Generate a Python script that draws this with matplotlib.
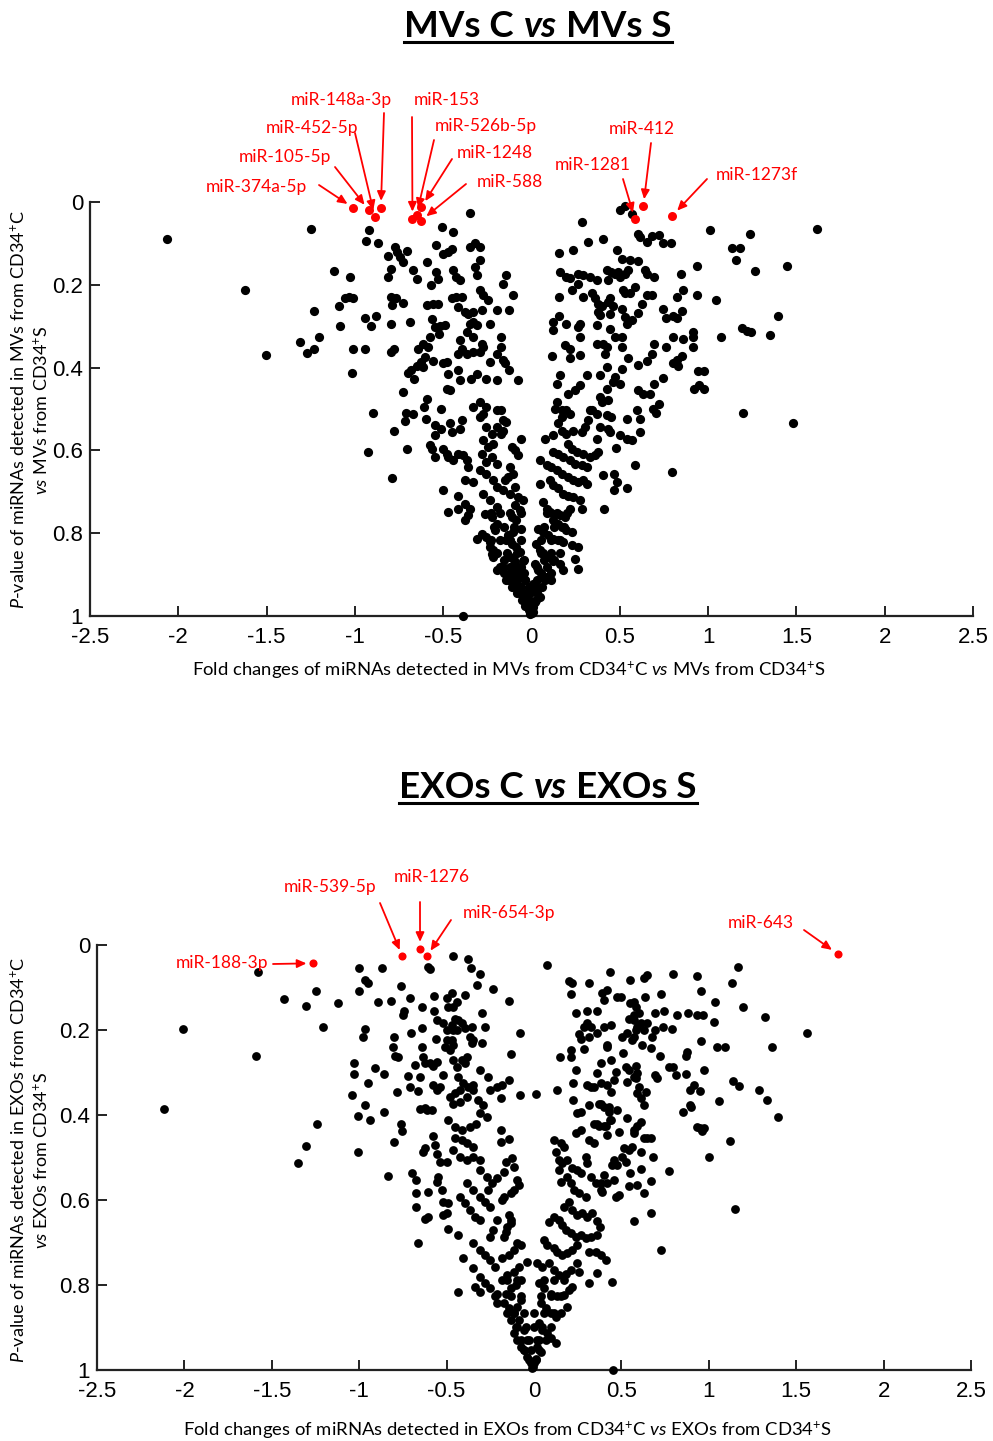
import numpy as np
import matplotlib
matplotlib.use("Agg")
import matplotlib.pyplot as plt
from matplotlib.lines import Line2D

plt.rcParams["mathtext.fontset"] = "custom"
plt.rcParams["mathtext.rm"] = "Lato"
plt.rcParams["mathtext.it"] = "Lato:italic"
plt.rcParams["mathtext.bf"] = "Lato:bold"

W, H = 993, 1441

# ---------------- MVs C vs MVs S : (fold change, P-value) ----------------
mv_outer_left = [
    (-2.062, 0.089), (-1.623, 0.213), (-1.506, 0.370), (-1.249, 0.065), (-1.121, 0.166),
    (-1.311, 0.338), (-1.230, 0.264), (-1.202, 0.326), (-1.274, 0.365), (-1.230, 0.354),
    (-1.092, 0.252), (-1.083, 0.300), (-1.057, 0.231), (-1.034, 0.229), (-1.008, 0.233),
    (-1.028, 0.182), (-1.019, 0.412), (-1.008, 0.354), (-0.945, 0.280), (-0.945, 0.354),
    (-0.909, 0.300), (-0.879, 0.275), (-0.898, 0.510), (-0.926, 0.604), (-0.919, 0.068),
    (-0.936, 0.093), (-0.872, 0.100), (-0.789, 0.666), (-0.781, 0.553), (-0.798, 0.295),
    (-0.798, 0.362), (-0.781, 0.354), (-0.794, 0.229), (-0.770, 0.233), (-0.791, 0.249),
    (-0.815, 0.181), (-0.798, 0.163), (-0.811, 0.131), (-0.774, 0.109), (-0.762, 0.121),
    (-0.745, 0.133), (-0.706, 0.119), (-0.725, 0.144), (-0.670, 0.165), (-0.651, 0.186),
    (-0.725, 0.244), (-0.689, 0.291), (-0.700, 0.412), (-0.681, 0.407), (-0.664, 0.428),
    (-0.725, 0.459), (-0.709, 0.509), (-0.670, 0.513), (-0.715, 0.529), (-0.706, 0.596),
    (-0.651, 0.395), (-0.613, 0.399), (-0.628, 0.386), (-0.642, 0.354), (-0.613, 0.342),
    (-0.585, 0.350), (-0.604, 0.374), (-0.557, 0.383), (-0.589, 0.144), (-0.542, 0.103),
    (-0.504, 0.061), (-0.443, 0.073), (-0.500, 0.125), (-0.472, 0.121), (-0.453, 0.113),
    (-0.538, 0.169), (-0.528, 0.185), (-0.570, 0.201), (-0.589, 0.248), (-0.557, 0.246),
    (-0.532, 0.246), (-0.562, 0.282), (-0.545, 0.301), (-0.519, 0.299), (-0.491, 0.297),
    (-0.523, 0.320), (-0.575, 0.326), (-0.481, 0.386), (-0.500, 0.388), (-0.475, 0.415),
    (-0.415, 0.407), (-0.406, 0.431), (-0.481, 0.451), (-0.462, 0.455), (-0.589, 0.475),
    (-0.608, 0.494), (-0.513, 0.499), (-0.596, 0.523), (-0.545, 0.539), (-0.513, 0.548),
    (-0.462, 0.535), (-0.453, 0.556), (-0.396, 0.527), (-0.406, 0.548), (-0.545, 0.564),
    (-0.575, 0.588), (-0.566, 0.596), (-0.547, 0.616), (-0.500, 0.596), (-0.481, 0.608),
    (-0.472, 0.616), (-0.443, 0.624), (-0.415, 0.608), (-0.387, 0.612), (-0.368, 0.624),
    (-0.358, 0.640), (-0.377, 0.672), (-0.330, 0.676), (-0.500, 0.696), (-0.475, 0.749),
    (-0.415, 0.741), (-0.415, 0.709), (-0.377, 0.729), (-0.377, 0.769), (-0.358, 0.757),
    (-0.349, 0.741), (-0.311, 0.815), (-0.283, 0.801), (-0.255, 0.809), (-0.236, 0.821),
    (-0.217, 0.841), (-0.226, 0.850), (-0.198, 0.890), (-0.387, 1.000), (-0.349, 0.026),
]
mv_inner_left = [
    (-0.443, 0.165), (-0.425, 0.181), (-0.406, 0.189), (-0.349, 0.109), (-0.321, 0.100),
    (-0.292, 0.109), (-0.321, 0.157), (-0.292, 0.141), (-0.311, 0.177), (-0.292, 0.213),
    (-0.274, 0.225), (-0.245, 0.237), (-0.453, 0.233), (-0.425, 0.229), (-0.396, 0.229),
    (-0.415, 0.254), (-0.377, 0.266), (-0.358, 0.270), (-0.330, 0.266), (-0.349, 0.294),
    (-0.330, 0.290), (-0.311, 0.298), (-0.283, 0.262), (-0.368, 0.314), (-0.330, 0.326),
    (-0.283, 0.342), (-0.274, 0.350), (-0.406, 0.334), (-0.396, 0.354), (-0.415, 0.366),
    (-0.368, 0.366), (-0.330, 0.362), (-0.292, 0.362), (-0.236, 0.294), (-0.198, 0.262),
    (-0.236, 0.386), (-0.198, 0.366), (-0.340, 0.427), (-0.311, 0.415), (-0.255, 0.428),
    (-0.198, 0.431), (-0.330, 0.495), (-0.292, 0.483), (-0.255, 0.495), (-0.198, 0.503),
    (-0.292, 0.519), (-0.274, 0.511), (-0.255, 0.543), (-0.226, 0.560), (-0.198, 0.543),
    (-0.274, 0.576), (-0.245, 0.592), (-0.217, 0.584), (-0.283, 0.608), (-0.255, 0.628),
    (-0.226, 0.616), (-0.198, 0.632), (-0.292, 0.648), (-0.255, 0.656), (-0.217, 0.672),
    (-0.198, 0.688), (-0.274, 0.705), (-0.236, 0.721), (-0.198, 0.737), (-0.264, 0.753),
    (-0.226, 0.761), (-0.198, 0.777), (-0.208, 0.793), (-0.236, 0.833), (-0.217, 0.857),
]
mv_core_left = [
    (-0.142, 0.177), (-0.161, 0.198), (-0.104, 0.225), (-0.127, 0.260), (-0.170, 0.326),
    (-0.170, 0.350), (-0.161, 0.382), (-0.151, 0.390), (-0.127, 0.405), (-0.076, 0.431),
    (-0.170, 0.503), (-0.161, 0.527), (-0.142, 0.531), (-0.161, 0.552), (-0.170, 0.560),
    (-0.057, 0.572), (-0.113, 0.592), (-0.095, 0.600), (-0.076, 0.612), (-0.123, 0.640),
    (-0.104, 0.656), (-0.132, 0.664), (-0.151, 0.672), (-0.095, 0.688), (-0.123, 0.705),
    (-0.161, 0.696), (-0.076, 0.713), (-0.047, 0.721), (-0.095, 0.733), (-0.066, 0.745),
    (-0.113, 0.761), (-0.085, 0.769), (-0.057, 0.789), (-0.104, 0.797), (-0.132, 0.805),
    (-0.142, 0.817), (-0.113, 0.825), (-0.085, 0.833), (-0.066, 0.845), (-0.047, 0.866),
    (-0.123, 0.858), (-0.095, 0.874), (-0.076, 0.890), (-0.057, 0.902), (-0.038, 0.914),
    (-0.104, 0.914), (-0.085, 0.926), (-0.066, 0.938), (-0.047, 0.954), (-0.028, 0.970),
    (-0.013, 0.986), (-0.006, 0.994), (-0.142, 0.914), (-0.123, 0.898), (-0.161, 0.882),
]
mv_tip = [
    (-0.176, 0.881), (-0.119, 0.881), (-0.062, 0.881), (0.032, 0.881), (0.089, 0.881),
    (-0.157, 0.897), (-0.100, 0.897), (-0.044, 0.897), (0.051, 0.897), (0.108, 0.897),
    (-0.128, 0.913), (-0.081, 0.913), (-0.034, 0.913), (0.032, 0.913), (0.079, 0.913),
    (-0.109, 0.929), (-0.062, 0.929), (-0.015, 0.929), (0.023, 0.929), (0.061, 0.929),
    (-0.081, 0.945), (-0.044, 0.945), (-0.006, 0.945), (0.032, 0.945), (-0.053, 0.961),
    (-0.015, 0.961), (0.023, 0.961), (-0.034, 0.977), (0.004, 0.977), (0.000, 0.993),
    (-0.232, 0.816), (-0.176, 0.816), (-0.119, 0.816), (-0.062, 0.816), (0.051, 0.816),
    (0.108, 0.816), (0.164, 0.816), (-0.194, 0.849), (-0.138, 0.849), (-0.081, 0.849),
    (0.051, 0.849), (0.108, 0.849), (0.164, 0.849), (-0.157, 0.865), (-0.100, 0.865),
    (-0.044, 0.865), (0.070, 0.865), (0.126, 0.865), (-0.213, 0.784), (-0.157, 0.784),
    (-0.100, 0.784), (0.070, 0.784), (0.126, 0.784), (0.183, 0.784), (-0.232, 0.752),
    (-0.176, 0.752), (-0.119, 0.752), (-0.062, 0.752), (0.089, 0.752), (0.145, 0.752),
    (0.202, 0.752),
]
mv_right = [
    (0.501, 0.020), (0.529, 0.010), (0.567, 0.028), (0.284, 0.049), (0.321, 0.097),
    (0.403, 0.089), (0.155, 0.123), (0.236, 0.115), (0.605, 0.077), (0.614, 0.085),
    (0.652, 0.097), (0.680, 0.081), (0.724, 0.079), (0.743, 0.099), (0.790, 0.099),
    (1.008, 0.068), (1.238, 0.077), (1.616, 0.065), (1.138, 0.112), (1.181, 0.112),
    (1.157, 0.139), (1.267, 0.166), (1.446, 0.155), (0.936, 0.155), (0.845, 0.175),
    (0.860, 0.213), (0.936, 0.225), (1.045, 0.236), (0.822, 0.229), (0.743, 0.259),
    (0.760, 0.279), (0.803, 0.275), (0.822, 0.280), (0.850, 0.264), (1.395, 0.275),
    (1.191, 0.304), (1.219, 0.311), (1.242, 0.315), (1.348, 0.322), (1.072, 0.326),
    (0.917, 0.314), (0.917, 0.326), (0.917, 0.350), (0.860, 0.330), (0.803, 0.326),
    (0.762, 0.350), (0.696, 0.342), (0.680, 0.366), (0.652, 0.385), (0.605, 0.393),
    (0.850, 0.373), (0.822, 0.382), (0.803, 0.390), (0.828, 0.397), (0.743, 0.424),
    (0.696, 0.439), (0.671, 0.463), (0.945, 0.408), (0.974, 0.408), (0.920, 0.451),
    (0.949, 0.443), (0.974, 0.451), (0.724, 0.487), (0.690, 0.499), (0.705, 0.509),
    (1.200, 0.510), (1.478, 0.533), (0.798, 0.651), (0.588, 0.635), (0.539, 0.692),
    (0.469, 0.696), (0.482, 0.676), (0.469, 0.656), (0.412, 0.741), (0.406, 0.660),
    (0.539, 0.525), (0.595, 0.503), (0.614, 0.523), (0.614, 0.556), (0.569, 0.576),
    (0.539, 0.572), (0.501, 0.564), (0.478, 0.594), (0.605, 0.455), (0.633, 0.463),
    (0.605, 0.268), (0.624, 0.246), (0.652, 0.225), (0.680, 0.224), (0.586, 0.205),
    (0.558, 0.221), (0.529, 0.221), (0.520, 0.213), (0.567, 0.286), (0.539, 0.294),
    (0.529, 0.278), (0.514, 0.259), (0.482, 0.117), (0.510, 0.137), (0.558, 0.141),
    (0.605, 0.143), (0.548, 0.165), (0.529, 0.173), (0.643, 0.165), (0.652, 0.175),
    (0.696, 0.181), (0.425, 0.165), (0.450, 0.169), (0.473, 0.173), (0.501, 0.181),
    (0.491, 0.169), (0.435, 0.189), (0.444, 0.233), (0.435, 0.241), (0.463, 0.250),
    (0.378, 0.266), (0.388, 0.274), (0.444, 0.270), (0.369, 0.296), (0.444, 0.306),
    (0.473, 0.326), (0.510, 0.326), (0.369, 0.342), (0.406, 0.342), (0.425, 0.350),
    (0.416, 0.366), (0.510, 0.350), (0.425, 0.399), (0.388, 0.419), (0.473, 0.423),
    (0.501, 0.439), (0.463, 0.435), (0.548, 0.378), (0.510, 0.403), (0.425, 0.451),
    (0.388, 0.471), (0.397, 0.483), (0.435, 0.479), (0.425, 0.515), (0.450, 0.519),
    (0.340, 0.503), (0.369, 0.511), (0.435, 0.548), (0.444, 0.556), (0.388, 0.544),
    (0.369, 0.572), (0.312, 0.419), (0.274, 0.443), (0.246, 0.455), (0.208, 0.463),
    (0.274, 0.326), (0.265, 0.302), (0.274, 0.294), (0.217, 0.354), (0.189, 0.346),
    (0.217, 0.378), (0.274, 0.370), (0.198, 0.294), (0.123, 0.290), (0.123, 0.310),
    (0.155, 0.275), (0.155, 0.229), (0.227, 0.213), (0.293, 0.229), (0.161, 0.169),
    (0.198, 0.181), (0.217, 0.183), (0.265, 0.197), (0.265, 0.173), (0.293, 0.177),
    (0.331, 0.181), (0.369, 0.189), (0.340, 0.221), (0.359, 0.233), (0.378, 0.246),
    (0.397, 0.250), (0.117, 0.372), (0.161, 0.419), (0.142, 0.439), (0.142, 0.483),
    (0.132, 0.499), (0.170, 0.503), (0.198, 0.503), (0.217, 0.511), (0.170, 0.519),
    (0.151, 0.535), (0.170, 0.552), (0.198, 0.560), (0.236, 0.552), (0.284, 0.556),
    (0.303, 0.543), (0.321, 0.527), (0.331, 0.503), (0.123, 0.564), (0.076, 0.572),
    (0.208, 0.584), (0.227, 0.596), (0.255, 0.604), (0.293, 0.608), (0.331, 0.616),
    (0.359, 0.612), (0.378, 0.604), (0.123, 0.604), (0.151, 0.608), (0.180, 0.616),
    (0.217, 0.624), (0.246, 0.632), (0.284, 0.636), (0.312, 0.640), (0.047, 0.622),
    (0.085, 0.636), (0.113, 0.640), (0.142, 0.648), (0.170, 0.656), (0.208, 0.664),
    (0.236, 0.672), (0.265, 0.676), (0.293, 0.672), (0.312, 0.680), (0.104, 0.672),
    (0.123, 0.684), (0.151, 0.692), (0.180, 0.705), (0.208, 0.709), (0.236, 0.713),
    (0.274, 0.721), (0.284, 0.741), (0.047, 0.680), (0.066, 0.725), (0.085, 0.741),
    (0.104, 0.749), (0.132, 0.753), (0.161, 0.757), (0.189, 0.761), (0.217, 0.741),
    (0.123, 0.769), (0.151, 0.777), (0.170, 0.785), (0.198, 0.793), (0.227, 0.797),
    (0.038, 0.789), (0.066, 0.797), (0.095, 0.805), (0.123, 0.813), (0.151, 0.817),
    (0.180, 0.821), (0.227, 0.829), (0.265, 0.833), (0.246, 0.862), (0.265, 0.886),
    (0.028, 0.825), (0.047, 0.841), (0.066, 0.849), (0.095, 0.858), (0.123, 0.866),
    (0.161, 0.874), (0.180, 0.890), (0.019, 0.874), (0.038, 0.890), (0.057, 0.902),
    (0.085, 0.906), (0.113, 0.914), (0.009, 0.922), (0.028, 0.938), (0.047, 0.954),
    (0.019, 0.966), (0.009, 0.978), (0.006, 0.990),
]
mv_sig_names = ["miR-374a-5p", "miR-105-5p", "miR-452-5p", "miR-148a-3p", "miR-153",
                "miR-526b-5p", "miR-1248", "miR-588", "miR-1281", "miR-412", "miR-1273f"]
mv_sig_fc = [-1.009, -0.921, -0.887, -0.853, -0.674, -0.651, -0.623, -0.626, 0.586, 0.633, 0.798]
mv_sig_p = [0.014, 0.020, 0.036, 0.014, 0.040, 0.031, 0.012, 0.045, 0.042, 0.010, 0.033]

# ---------------- EXOs C vs EXOs S : (fold change, P-value) ----------------
exo_left = [
    (-1.580, 0.063), (-2.009, 0.198), (-1.590, 0.260), (-2.119, 0.385), (-1.433, 0.127),
    (-1.304, 0.143), (-1.247, 0.108), (-1.205, 0.192), (-1.119, 0.137), (-1.239, 0.422),
    (-1.304, 0.472), (-1.350, 0.514), (-1.001, 0.055), (-0.999, 0.108), (-0.967, 0.082),
    (-0.951, 0.089), (-0.890, 0.133), (-0.871, 0.055), (-0.817, 0.131), (-0.761, 0.096),
    (-0.709, 0.125), (-0.744, 0.155), (-0.748, 0.165), (-0.965, 0.198), (-0.976, 0.217),
    (-1.030, 0.278), (-1.030, 0.304), (-1.039, 0.354), (-0.910, 0.289), (-0.948, 0.324),
    (-0.856, 0.304), (-0.967, 0.376), (-0.938, 0.412), (-1.005, 0.402), (-1.009, 0.486),
    (-0.856, 0.392), (-0.799, 0.217), (-0.805, 0.240), (-0.796, 0.261), (-0.777, 0.263),
    (-0.786, 0.347), (-0.761, 0.422), (-0.753, 0.437), (-0.799, 0.464), (-0.837, 0.544),
    (-0.696, 0.536), (-0.677, 0.554), (-0.673, 0.584), (-0.675, 0.616), (-0.662, 0.702),
    (-0.624, 0.644), (-0.605, 0.641), (-0.706, 0.206), (-0.719, 0.308), (-0.709, 0.333),
    (-0.681, 0.282), (-0.652, 0.311), (-0.662, 0.344), (-0.643, 0.145), (-0.643, 0.196),
    (-0.633, 0.263), (-0.652, 0.385), (-0.614, 0.388), (-0.585, 0.388), (-0.624, 0.384),
    (-0.633, 0.486), (-0.624, 0.478), (-0.576, 0.449), (-0.567, 0.471), (-0.557, 0.492),
    (-0.538, 0.511), (-0.500, 0.510), (-0.609, 0.051), (-0.595, 0.057), (-0.572, 0.119),
    (-0.574, 0.155), (-0.555, 0.177), (-0.563, 0.221), (-0.641, 0.239), (-0.622, 0.277),
    (-0.595, 0.277), (-0.576, 0.285), (-0.580, 0.330), (-0.557, 0.341), (-0.538, 0.333),
    (-0.519, 0.307), (-0.557, 0.275), (-0.548, 0.545), (-0.557, 0.557), (-0.528, 0.576),
    (-0.605, 0.580), (-0.519, 0.604), (-0.490, 0.608), (-0.500, 0.631), (-0.519, 0.635),
    (-0.490, 0.669), (-0.462, 0.027), (-0.500, 0.125), (-0.471, 0.114), (-0.490, 0.147),
    (-0.462, 0.145), (-0.443, 0.133), (-0.519, 0.184), (-0.500, 0.200), (-0.471, 0.188),
    (-0.462, 0.200), (-0.500, 0.224), (-0.471, 0.224), (-0.509, 0.239), (-0.481, 0.247),
    (-0.462, 0.235), (-0.376, 0.034), (-0.362, 0.055), (-0.310, 0.069), (-0.395, 0.118),
    (-0.324, 0.094), (-0.233, 0.104), (-0.452, 0.173), (-0.433, 0.177), (-0.414, 0.184),
    (-0.395, 0.196), (-0.443, 0.200), (-0.357, 0.192), (-0.348, 0.224), (-0.357, 0.231),
    (-0.367, 0.216), (-0.300, 0.161), (-0.281, 0.192), (-0.300, 0.231), (-0.462, 0.271),
    (-0.443, 0.286), (-0.414, 0.271), (-0.395, 0.278), (-0.386, 0.263), (-0.433, 0.310),
    (-0.405, 0.325), (-0.376, 0.333), (-0.348, 0.329), (-0.310, 0.294), (-0.481, 0.357),
    (-0.452, 0.349), (-0.424, 0.341), (-0.462, 0.373), (-0.424, 0.369), (-0.386, 0.357),
    (-0.348, 0.341), (-0.319, 0.365), (-0.290, 0.376), (-0.310, 0.396), (-0.271, 0.404),
    (-0.262, 0.310), (-0.252, 0.341), (-0.214, 0.333), (-0.490, 0.412), (-0.452, 0.428),
    (-0.414, 0.435), (-0.367, 0.428), (-0.329, 0.420), (-0.452, 0.455), (-0.414, 0.459),
    (-0.386, 0.467), (-0.348, 0.475), (-0.462, 0.482), (-0.424, 0.498), (-0.386, 0.506),
    (-0.348, 0.498), (-0.310, 0.506), (-0.310, 0.529), (-0.271, 0.545), (-0.243, 0.561),
    (-0.214, 0.549), (-0.262, 0.576), (-0.386, 0.561), (-0.348, 0.576), (-0.310, 0.592),
    (-0.281, 0.604), (-0.252, 0.616), (-0.424, 0.592), (-0.395, 0.608), (-0.367, 0.624),
    (-0.338, 0.639), (-0.310, 0.647), (-0.433, 0.682), (-0.409, 0.737), (-0.433, 0.816),
    (-0.348, 0.702), (-0.310, 0.718), (-0.281, 0.729), (-0.252, 0.741), (-0.224, 0.757),
    (-0.348, 0.761), (-0.310, 0.780), (-0.281, 0.796), (-0.252, 0.808), (-0.214, 0.820),
    (-0.338, 0.804), (-0.310, 0.816), (-0.233, 0.671), (-0.252, 0.686), (-0.214, 0.647),
    (-0.224, 0.827), (-0.214, 0.843),
]
exo_core_left = [
    (-0.143, 0.131), (-0.080, 0.206), (-0.133, 0.256), (-0.143, 0.318), (-0.080, 0.353),
    (-0.181, 0.329), (-0.190, 0.361), (0.010, 0.351), (-0.190, 0.435), (-0.143, 0.457),
    (-0.190, 0.463), (-0.124, 0.502), (-0.114, 0.522), (-0.162, 0.510), (-0.171, 0.533),
    (-0.095, 0.553), (-0.086, 0.565), (-0.114, 0.576), (-0.133, 0.584), (-0.171, 0.592),
    (-0.181, 0.600), (-0.143, 0.635), (-0.133, 0.647), (-0.152, 0.663), (-0.162, 0.675),
    (-0.171, 0.686), (-0.133, 0.655), (-0.095, 0.702), (-0.076, 0.706), (-0.114, 0.718),
    (-0.143, 0.729), (-0.181, 0.737), (-0.038, 0.747), (-0.086, 0.757), (-0.114, 0.769),
    (-0.152, 0.776), (-0.181, 0.788), (-0.076, 0.788), (-0.105, 0.800), (-0.133, 0.808),
    (-0.162, 0.820), (-0.076, 0.835), (-0.095, 0.851), (-0.114, 0.867), (-0.143, 0.855),
    (-0.171, 0.843), (-0.086, 0.882), (-0.105, 0.898), (-0.114, 0.914), (-0.095, 0.929),
    (-0.076, 0.945), (-0.057, 0.953), (-0.038, 0.969), (-0.019, 0.984), (-0.010, 0.996),
    (-0.133, 0.882), (-0.152, 0.867), (-0.057, 0.906), (-0.038, 0.929),
]
exo_tip = [
    (-0.114, 0.867), (-0.057, 0.867), (0.000, 0.867), (0.057, 0.867), (0.114, 0.867),
    (-0.095, 0.898), (-0.048, 0.898), (0.000, 0.898), (0.048, 0.898), (0.095, 0.898),
    (-0.076, 0.929), (-0.029, 0.929), (0.019, 0.929), (0.067, 0.929), (-0.057, 0.953),
    (-0.015, 0.953), (0.029, 0.953), (-0.029, 0.976), (0.010, 0.976), (-0.004, 0.992),
    (-0.133, 0.827), (-0.076, 0.827), (0.038, 0.827), (0.095, 0.827), (0.152, 0.827),
    (-0.152, 0.788), (-0.095, 0.788), (0.057, 0.788), (0.114, 0.788), (0.171, 0.788),
]
exo_right = [
    (0.076, 0.047), (0.432, 0.063), (0.200, 0.084), (0.219, 0.089), (0.213, 0.115),
    (0.314, 0.089), (0.552, 0.082), (0.629, 0.078), (0.644, 0.071), (0.794, 0.068),
    (0.930, 0.073), (0.956, 0.108), (1.038, 0.135), (1.166, 0.051), (1.130, 0.089),
    (1.194, 0.147), (1.324, 0.169), (1.562, 0.206), (1.362, 0.241), (1.029, 0.180),
    (1.048, 0.241), (1.095, 0.241), (0.956, 0.225), (0.819, 0.165), (0.882, 0.161),
    (0.930, 0.165), (0.966, 0.165), (0.743, 0.155), (0.724, 0.115), (0.634, 0.123),
    (0.790, 0.198), (0.737, 0.194), (0.690, 0.200), (0.670, 0.243), (0.718, 0.261),
    (0.876, 0.251), (0.867, 0.261), (0.771, 0.286), (0.796, 0.286), (0.810, 0.306),
    (0.872, 0.304), (0.975, 0.294), (0.695, 0.306), (0.705, 0.312), (1.139, 0.320),
    (1.175, 0.331), (1.286, 0.340), (1.333, 0.365), (1.396, 0.404), (1.057, 0.366),
    (0.914, 0.329), (0.895, 0.341), (0.952, 0.343), (0.890, 0.376), (0.901, 0.380),
    (0.853, 0.392), (0.930, 0.429), (0.952, 0.431), (0.962, 0.438), (0.975, 0.431),
    (1.120, 0.460), (1.002, 0.499), (0.771, 0.532), (1.149, 0.620), (0.728, 0.718),
    (0.670, 0.631), (0.571, 0.649), (0.632, 0.584), (0.670, 0.555), (0.680, 0.498),
    (0.667, 0.455), (0.610, 0.528), (0.587, 0.565), (0.543, 0.567), (0.552, 0.537),
    (0.524, 0.510), (0.505, 0.498), (0.514, 0.478), (0.543, 0.482), (0.562, 0.475),
    (0.610, 0.486), (0.629, 0.455), (0.648, 0.453), (0.571, 0.435), (0.571, 0.443),
    (0.610, 0.416), (0.533, 0.408), (0.486, 0.441), (0.438, 0.412), (0.429, 0.392),
    (0.381, 0.373), (0.400, 0.380), (0.362, 0.420), (0.400, 0.427), (0.419, 0.447),
    (0.457, 0.506), (0.448, 0.518), (0.476, 0.518), (0.457, 0.553), (0.486, 0.588),
    (0.467, 0.592), (0.400, 0.540), (0.381, 0.561), (0.419, 0.561), (0.390, 0.580),
    (0.590, 0.427), (0.590, 0.349), (0.610, 0.361), (0.629, 0.376), (0.642, 0.347),
    (0.600, 0.333), (0.533, 0.322), (0.581, 0.314), (0.590, 0.302), (0.524, 0.286),
    (0.543, 0.294), (0.571, 0.310), (0.581, 0.285), (0.467, 0.298), (0.457, 0.318),
    (0.438, 0.271), (0.381, 0.278), (0.362, 0.302), (0.305, 0.329), (0.324, 0.333),
    (0.343, 0.333), (0.381, 0.325), (0.419, 0.329), (0.438, 0.345), (0.314, 0.376),
    (0.371, 0.373), (0.429, 0.380), (0.476, 0.388), (0.434, 0.412), (0.248, 0.396),
    (0.267, 0.392), (0.343, 0.420), (0.371, 0.427), (0.410, 0.427), (0.223, 0.325),
    (0.223, 0.365), (0.238, 0.294), (0.133, 0.341), (0.149, 0.263), (0.210, 0.247),
    (0.210, 0.264), (0.242, 0.161), (0.305, 0.155), (0.362, 0.155), (0.257, 0.210),
    (0.286, 0.192), (0.305, 0.184), (0.324, 0.192), (0.362, 0.206), (0.400, 0.192),
    (0.438, 0.188), (0.267, 0.220), (0.286, 0.245), (0.314, 0.216), (0.390, 0.114),
    (0.415, 0.107), (0.400, 0.130), (0.476, 0.122), (0.495, 0.122), (0.419, 0.235),
    (0.419, 0.241), (0.508, 0.255), (0.505, 0.216), (0.533, 0.208), (0.562, 0.224),
    (0.571, 0.216), (0.581, 0.200), (0.590, 0.192), (0.552, 0.137), (0.571, 0.133),
    (0.581, 0.145), (0.600, 0.161), (0.571, 0.165), (0.543, 0.173), (0.571, 0.176),
    (0.610, 0.184), (0.648, 0.184), (0.629, 0.200), (0.619, 0.235), (0.676, 0.216),
    (0.691, 0.159), (0.114, 0.459), (0.124, 0.486), (0.152, 0.467), (0.171, 0.475),
    (0.143, 0.506), (0.162, 0.514), (0.190, 0.506), (0.143, 0.529), (0.152, 0.557),
    (0.190, 0.545), (0.219, 0.525), (0.248, 0.529), (0.267, 0.537), (0.238, 0.443),
    (0.267, 0.435), (0.314, 0.459), (0.343, 0.467), (0.295, 0.498), (0.305, 0.514),
    (0.324, 0.545), (0.352, 0.561), (0.381, 0.576), (0.210, 0.561), (0.229, 0.576),
    (0.257, 0.584), (0.295, 0.592), (0.171, 0.616), (0.200, 0.604), (0.219, 0.624),
    (0.248, 0.635), (0.276, 0.631), (0.305, 0.639), (0.333, 0.631), (0.086, 0.651),
    (0.114, 0.639), (0.143, 0.647), (0.162, 0.659), (0.181, 0.671), (0.210, 0.678),
    (0.238, 0.686), (0.267, 0.682), (0.295, 0.690), (0.324, 0.686), (0.362, 0.682),
    (0.362, 0.649), (0.377, 0.663), (0.314, 0.722), (0.352, 0.722), (0.381, 0.729),
    (0.410, 0.741), (0.362, 0.771), (0.314, 0.796), (0.444, 0.794), (0.057, 0.694),
    (0.076, 0.706), (0.114, 0.714), (0.133, 0.722), (0.162, 0.729), (0.190, 0.725),
    (0.219, 0.718), (0.248, 0.706), (0.019, 0.749), (0.048, 0.757), (0.086, 0.749),
    (0.114, 0.765), (0.143, 0.776), (0.181, 0.773), (0.210, 0.765), (0.248, 0.749),
    (0.257, 0.769), (0.029, 0.796), (0.057, 0.808), (0.095, 0.820), (0.133, 0.827),
    (0.171, 0.824), (0.200, 0.812), (0.219, 0.804), (0.038, 0.843), (0.067, 0.855),
    (0.095, 0.867), (0.124, 0.875), (0.152, 0.867), (0.190, 0.851), (0.029, 0.890),
    (0.048, 0.906), (0.076, 0.914), (0.095, 0.925), (0.124, 0.937), (0.019, 0.945),
    (0.038, 0.957), (0.010, 0.973), (0.000, 0.984), (0.029, 0.929), (0.453, 1.000),
]
exo_sig_names = ["miR-188-3p", "miR-539-5p", "miR-1276", "miR-654-3p", "miR-643"]
exo_sig_fc = [-1.262, -0.753, -0.652, -0.614, 1.737]
exo_sig_p = [0.043, 0.027, 0.009, 0.027, 0.021]

x_ticks = [-2.5, -2, -1.5, -1, -0.5, 0, 0.5, 1, 1.5, 2, 2.5]
x_ticklabels = ["-2.5", "-2", "-1.5", "-1", "-0.5", "0", "0.5", "1", "1.5", "2", "2.5"]
y_ticks = [0, 0.2, 0.4, 0.6, 0.8, 1]
y_ticklabels = ["0", "0.2", "0.4", "0.6", "0.8", "1"]

# label layout (figure pixels from top-left): text centre, arrow tail
mv_text_xy = [(256, 187), (285, 157), (312, 128), (341, 100), (447, 100),
              (486, 126), (495, 153), (510, 182), (593, 165), (642, 129), (757, 175)]
mv_tail_xy = [(319, 185), (335, 167), (355, 133), (384, 113), (412, 117),
              (434, 140), (452, 159), (466, 184), (623, 179), (651, 143), (707, 179)]
exo_text_xy = [(222, 963), (330, 887), (432, 877), (509, 913), (761, 923)]
exo_tail_xy = [(273, 964), (380, 903), (420, 902), (451, 920), (804, 930)]

fig = plt.figure(figsize=(W / 100, H / 100), dpi=100)


def fpos(x, y):
    return (x / W, 1 - y / H)


def make_axes(l, t, r, b):
    ax = fig.add_axes([l / W, 1 - b / H, (r - l) / W, (b - t) / H])
    ax.set_xlim(-2.5, 2.5)
    ax.set_ylim(1, 0)
    ax.set_xticks(x_ticks)
    ax.set_xticklabels(x_ticklabels)
    ax.set_yticks(y_ticks)
    ax.set_yticklabels(y_ticklabels)
    for s in ("top", "right"):
        ax.spines[s].set_visible(False)
    for s in ("left", "bottom"):
        ax.spines[s].set_linewidth(1.6)
        ax.spines[s].set_color("#222222")
    ax.tick_params(direction="in", length=7, width=1.4, color="#222222", labelsize=16)
    ax.tick_params(axis="x", pad=8)
    ax.tick_params(axis="y", pad=5)
    for lab in ax.get_xticklabels() + ax.get_yticklabels():
        lab.set_family("Liberation Sans")
    ax.patch.set_visible(False)
    return ax


def scatter_groups(ax, groups, s):
    pts = np.array([p for g in groups for p in g])
    ax.scatter(pts[:, 0], pts[:, 1], s=s, color="black", linewidths=0,
               clip_on=False, zorder=3)


def mark_sig(ax, names, fc, p, text_xy, tail_xy, s):
    ax.scatter(fc, p, s=s, color="#ff0000", linewidths=0, clip_on=False, zorder=4)
    for n, x, y, txy, axy in zip(names, fc, p, text_xy, tail_xy):
        fig.text(*fpos(*txy), n, color="#ff0000", fontsize=12.5, family="Lato",
                 ha="center", va="center")
        ax.annotate("", xy=(x, y), xycoords="data", xytext=fpos(*axy),
                    textcoords="figure fraction", annotation_clip=False,
                    arrowprops=dict(arrowstyle="-|>,head_length=0.55,head_width=0.25",
                                    color="#ff0000", lw=1.3, shrinkA=0, shrinkB=5))


def add_title(cx, base_y, parts, size):
    r = fig.canvas.get_renderer()
    objs = [fig.text(0, 1 - base_y / H, s, fontsize=size, fontweight="bold",
                     style=st, family="Lato", va="baseline") for s, st in parts]
    widths = [o.get_window_extent(r).width for o in objs]
    gap = size * 0.26 * 100 / 72
    total = sum(widths) + gap * (len(objs) - 1)
    x = cx - total / 2
    for o, w in zip(objs, widths):
        o.set_x(x / W)
        x += w + gap
    x0 = cx - total / 2
    fig.add_artist(Line2D([x0 / W, (x0 + total) / W], [1 - (base_y + 5) / H] * 2,
                          color="black", lw=2.2, transform=fig.transFigure))


# ---- top panel ----
ax1 = make_axes(90, 202, 973, 616)
scatter_groups(ax1, [mv_outer_left, mv_inner_left, mv_core_left, mv_tip, mv_right], s=44)
mark_sig(ax1, mv_sig_names, mv_sig_fc, mv_sig_p, mv_text_xy, mv_tail_xy, s=42)
add_title(538, 37, [("MVs C", "normal"), ("vs", "italic"), ("MVs S", "normal")], 26.5)
fig.text(*fpos(30, 410),
         "$P$-value of miRNAs detected in MVs from CD34$^{+}$C\n$vs$ MVs from CD34$^{+}$S",
         rotation=90, ha="center", va="center", multialignment="center",
         fontsize=13, family="Lato", linespacing=1.3)
fig.text(*fpos(509, 670),
         "Fold changes of miRNAs detected in MVs from CD34$^{+}$C $vs$ MVs from CD34$^{+}$S",
         ha="center", va="center", fontsize=13.3, family="Lato")

# ---- bottom panel ----
ax2 = make_axes(97, 945, 971, 1370)
scatter_groups(ax2, [exo_left, exo_core_left, exo_tip, exo_right], s=40)
mark_sig(ax2, exo_sig_names, exo_sig_fc, exo_sig_p, exo_text_xy, exo_tail_xy, s=34)
add_title(548, 798, [("EXOs C", "normal"), ("vs", "italic"), ("EXOs S", "normal")], 26.5)
fig.text(*fpos(30, 1160),
         "$P$-value of miRNAs detected in EXOs from CD34$^{+}$C\n$vs$ EXOs from CD34$^{+}$S",
         rotation=90, ha="center", va="center", multialignment="center",
         fontsize=13, family="Lato", linespacing=1.3)
fig.text(*fpos(508, 1430),
         "Fold changes of miRNAs detected in EXOs from CD34$^{+}$C $vs$ EXOs from CD34$^{+}$S",
         ha="center", va="center", fontsize=13.3, family="Lato")

fig.savefig("out.png", dpi=100)
